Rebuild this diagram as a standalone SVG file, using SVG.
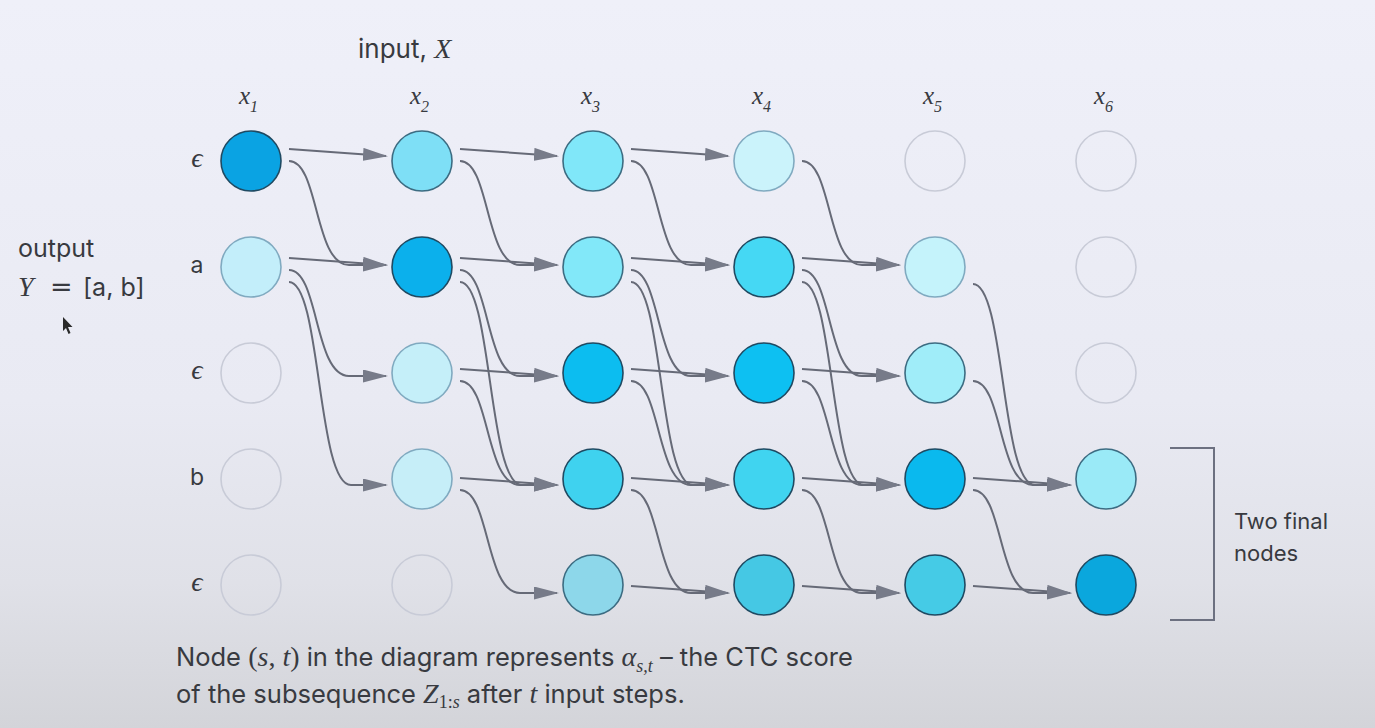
<svg xmlns="http://www.w3.org/2000/svg" width="1375" height="728" viewBox="0 0 1375 728">
<defs>
<linearGradient id="bg" x1="0" y1="0" x2="0" y2="1">
<stop offset="0" stop-color="#eff0f9"/>
<stop offset="0.55" stop-color="#e9eaf3"/>
<stop offset="0.8" stop-color="#e0e1e8"/>
<stop offset="1" stop-color="#d3d4d9"/>
</linearGradient>
<marker id="ah" markerUnits="userSpaceOnUse" markerWidth="25" markerHeight="14" refX="23" refY="6.5" orient="auto">
<path d="M0,0 L25,6.5 L0,13 z" fill="#777b89"/>
</marker>
<style>
.t{font-family:Inter,"Liberation Sans",sans-serif;fill:#383a40}
.m{font-family:"Liberation Serif","DejaVu Serif",serif;font-style:italic;fill:#383a40}
.r{font-family:"Liberation Serif","DejaVu Serif",serif;fill:#383a40}
.e path{fill:none;stroke:#666a77;stroke-width:2;marker-end:url(#ah)}
.n circle{stroke-width:1.6}
.dk{stroke:#1f4a62}
.md{stroke:#3c6c82}
.lt{stroke:#80aac0}
.em{fill:none;stroke:#c8cbd7;stroke-width:1.4}
</style>
</defs>
<rect x="0" y="0" width="1375" height="728" fill="url(#bg)"/>

<!-- titles -->
<text class="t" x="358" y="58" font-size="26">input, <tspan class="m" font-size="28">X</tspan></text>
<g id="col-labels">
<text class="m" x="239" y="104" font-size="25">x<tspan font-size="16" dy="8">1</tspan></text>
<text class="m" x="410" y="104" font-size="25">x<tspan font-size="16" dy="8">2</tspan></text>
<text class="m" x="581" y="104" font-size="25">x<tspan font-size="16" dy="8">3</tspan></text>
<text class="m" x="752" y="104" font-size="25">x<tspan font-size="16" dy="8">4</tspan></text>
<text class="m" x="923" y="104" font-size="25">x<tspan font-size="16" dy="8">5</tspan></text>
<text class="m" x="1094" y="104" font-size="25">x<tspan font-size="16" dy="8">6</tspan></text>
</g>
<g id="row-labels" text-anchor="middle">
<text class="m" x="197" y="167" font-size="28">ϵ</text>
<text class="t" x="197" y="273" font-size="23">a</text>
<text class="m" x="197" y="379" font-size="28">ϵ</text>
<text class="t" x="197" y="485" font-size="23">b</text>
<text class="m" x="197" y="591" font-size="28">ϵ</text>
</g>
<g id="output-label">
<text class="t" x="18" y="257" font-size="25">output</text>
<text x="18" y="296" font-size="28"><tspan class="m">Y</tspan><tspan x="50" font-family="'DejaVu Sans',sans-serif" fill="#383a40" font-size="27">=</tspan><tspan class="t" x="83" font-size="25">[a, b]</tspan></text>
</g>
<path d="M63,317 L63,331 L66,328 L68.5,334 L70.5,333 L68,327 L72.5,327 Z" fill="#2a2a2a"/>

<!-- connectors -->
<g id="connectors" class="e">
<!-- t1 -> t2 -->
<path d="M289,149 L386,156"/>
<path d="M289,161 C319,161 314,265 349,265 L386,265"/>
<path d="M289,258 L386,265"/>
<path d="M289,270 C319,270 314,376 349,376 L386,376"/>
<path d="M289,282 C321,282 317,485 351,485 L386,485"/>
<!-- t2 -> t3 -->
<path d="M460,149 L557,156"/>
<path d="M460,161 C490,161 485,265 520,265 L557,265"/>
<path d="M460,258 L557,265"/>
<path d="M460,270 C490,270 485,376 520,376 L557,376"/>
<path d="M460,282 C492,282 488,485 522,485 L557,485"/>
<path d="M460,369 L557,376"/>
<path d="M460,381 C490,381 485,485 520,485 L557,485"/>
<path d="M460,478 L557,485"/>
<path d="M460,490 C490,490 485,593 520,593 L557,593"/>
<!-- t3 -> t4 -->
<path d="M631,149 L728,156"/>
<path d="M631,161 C661,161 656,265 691,265 L728,265"/>
<path d="M631,258 L728,265"/>
<path d="M631,270 C661,270 656,376 691,376 L728,376"/>
<path d="M631,282 C663,282 659,485 693,485 L728,485"/>
<path d="M631,369 L728,376"/>
<path d="M631,381 C661,381 656,485 691,485 L728,485"/>
<path d="M631,478 L728,485"/>
<path d="M631,490 C661,490 656,593 691,593 L728,593"/>
<path d="M631,586 L728,593"/>
<!-- t4 -> t5 -->
<path d="M802,161 C832,161 827,265 862,265 L899,265"/>
<path d="M802,258 L899,265"/>
<path d="M802,270 C832,270 827,376 862,376 L899,376"/>
<path d="M802,282 C834,282 830,485 864,485 L899,485"/>
<path d="M802,369 L899,376"/>
<path d="M802,381 C832,381 827,485 862,485 L899,485"/>
<path d="M802,478 L899,485"/>
<path d="M802,490 C832,490 827,593 862,593 L899,593"/>
<path d="M802,586 L899,593"/>
<!-- t5 -> t6 -->
<path d="M973,284 C1005,284 1001,485 1035,485 L1070,485"/>
<path d="M973,381 C1003,381 998,485 1033,485 L1070,485"/>
<path d="M973,478 L1070,485"/>
<path d="M973,490 C1003,490 998,593 1033,593 L1070,593"/>
<path d="M973,586 L1070,593"/>
</g>

<!-- nodes -->
<g class="n">
<g id="n-1-0"><circle cx="251" cy="161" r="30" fill="#0aa3e3" class="dk"/></g>
<g id="n-1-1"><circle cx="251" cy="267" r="30" fill="#c3eefa" class="lt"/></g>
<g id="n-1-2"><circle cx="251" cy="373" r="30" class="em"/></g>
<g id="n-1-3"><circle cx="251" cy="479" r="30" class="em"/></g>
<g id="n-1-4"><circle cx="251" cy="585" r="30" class="em"/></g>

<g id="n-2-0"><circle cx="422" cy="161" r="30" fill="#7edff6" class="md"/></g>
<g id="n-2-1"><circle cx="422" cy="267" r="30" fill="#0bb0ec" class="dk"/></g>
<g id="n-2-2"><circle cx="422" cy="373" r="30" fill="#c5eff9" class="lt"/></g>
<g id="n-2-3"><circle cx="422" cy="479" r="30" fill="#c6eef8" class="lt"/></g>
<g id="n-2-4"><circle cx="422" cy="585" r="30" class="em"/></g>

<g id="n-3-0"><circle cx="593" cy="161" r="30" fill="#80e7f9" class="md"/></g>
<g id="n-3-1"><circle cx="593" cy="267" r="30" fill="#82e8f9" class="md"/></g>
<g id="n-3-2"><circle cx="593" cy="373" r="30" fill="#0cbdf0" class="dk"/></g>
<g id="n-3-3"><circle cx="593" cy="479" r="30" fill="#3fd2ef" class="dk"/></g>
<g id="n-3-4"><circle cx="593" cy="585" r="30" fill="#8dd7ea" class="md"/></g>

<g id="n-4-0"><circle cx="764" cy="161" r="30" fill="#cbf3fb" class="lt"/></g>
<g id="n-4-1"><circle cx="764" cy="267" r="30" fill="#45d8f4" class="dk"/></g>
<g id="n-4-2"><circle cx="764" cy="373" r="30" fill="#0dc0f2" class="dk"/></g>
<g id="n-4-3"><circle cx="764" cy="479" r="30" fill="#40d4f0" class="dk"/></g>
<g id="n-4-4"><circle cx="764" cy="585" r="30" fill="#45c8e4" class="dk"/></g>

<g id="n-5-0"><circle cx="935" cy="161" r="30" class="em"/></g>
<g id="n-5-1"><circle cx="935" cy="267" r="30" fill="#c5f3fb" class="lt"/></g>
<g id="n-5-2"><circle cx="935" cy="373" r="30" fill="#a0edf9" class="md"/></g>
<g id="n-5-3"><circle cx="935" cy="479" r="30" fill="#0ab9ee" class="dk"/></g>
<g id="n-5-4"><circle cx="935" cy="585" r="30" fill="#45cbe6" class="dk"/></g>

<g id="n-6-0"><circle cx="1106" cy="161" r="30" class="em"/></g>
<g id="n-6-1"><circle cx="1106" cy="267" r="30" class="em"/></g>
<g id="n-6-2"><circle cx="1106" cy="373" r="30" class="em"/></g>
<g id="n-6-3"><circle cx="1106" cy="479" r="30" fill="#9aeaf7" class="md"/></g>
<g id="n-6-4"><circle cx="1106" cy="585" r="30" fill="#0aa7dd" class="dk"/></g>
</g>

<!-- bracket -->
<g id="final-bracket">
<path d="M1170,448 L1214,448 L1214,620 L1170,620" fill="none" stroke="#6c7080" stroke-width="2"/>
<text class="t" x="1234" y="529" font-size="22">Two final</text>
<text class="t" x="1234" y="561" font-size="22">nodes</text>
</g>

<!-- caption -->
<g id="caption">
<text class="t" x="176" y="666" font-size="25.5">Node <tspan class="r" font-size="28">(</tspan><tspan class="m" font-size="28">s</tspan><tspan class="r" font-size="28">, </tspan><tspan class="m" font-size="28">t</tspan><tspan class="r" font-size="28">)</tspan> in the diagram represents <tspan class="m" font-size="28">α</tspan><tspan class="m" font-size="18" dy="6">s,t</tspan><tspan dy="-6"> – the CTC score</tspan></text>
<text class="t" x="176" y="703" font-size="25.5">of the subsequence <tspan class="m" font-size="28">Z</tspan><tspan class="r" font-size="18" dy="5">1:</tspan><tspan class="m" font-size="18">s</tspan><tspan dy="-5"> after </tspan><tspan class="m" font-size="28">t</tspan> input steps.</text>
</g>
</svg>
